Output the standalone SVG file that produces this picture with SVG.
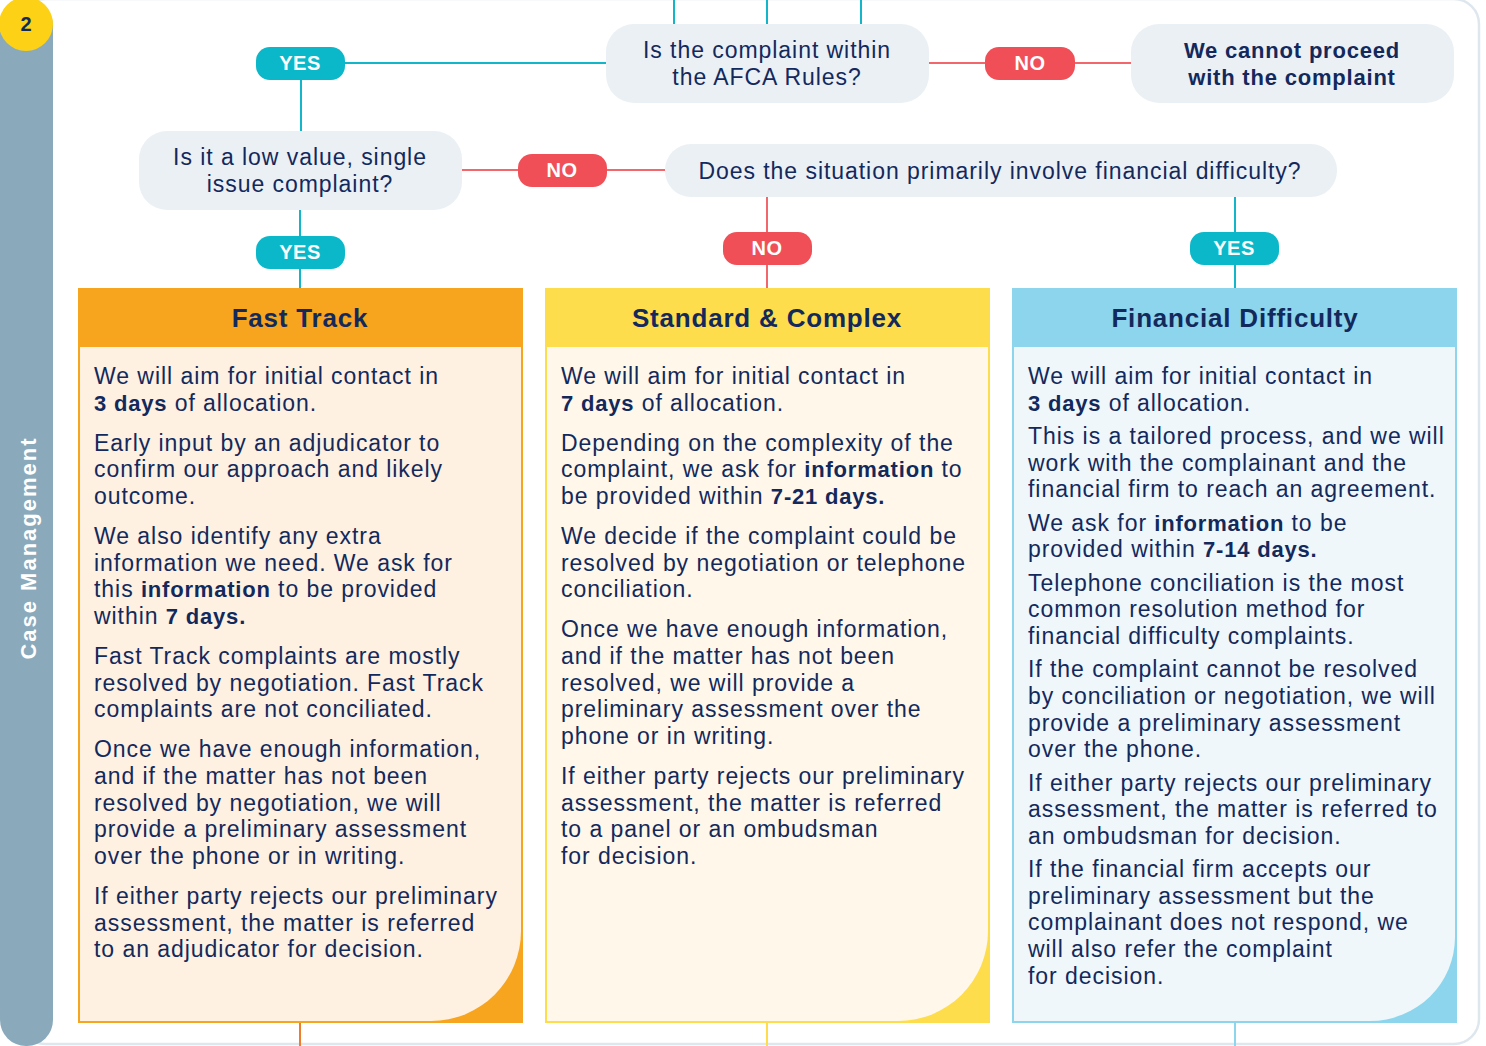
<svg xmlns="http://www.w3.org/2000/svg" width="1486" height="1046" viewBox="0 0 1486 1046">
<style>
.t{font-family:"Liberation Sans",Arial,sans-serif;fill:#13295c;font-size:23px;letter-spacing:0.95px}
.b{font-weight:700;font-size:22px;letter-spacing:0.8px}
.c{text-anchor:middle}
.node{fill:#ebf0f5}
.pt{font-family:"Liberation Sans",Arial,sans-serif;font-weight:700;font-size:20px;fill:#fff;text-anchor:middle;letter-spacing:0.5px}
.yes{fill:#0bb8c9}
.no{fill:#f04f57}
.lt{stroke:#12b6c8;stroke-width:2;fill:none}
.lr{stroke:#f2676c;stroke-width:2;fill:none}
.h{font-family:"Liberation Sans",Arial,sans-serif;font-weight:700;font-size:26px;fill:#13295c;text-anchor:middle;letter-spacing:0.8px}
</style>
<rect x="0" y="0" width="1486" height="1046" fill="#fff"/>
<rect x="20" y="-1" width="1459" height="1045" rx="25" fill="#fff" stroke="#dfe7ee" stroke-width="2.5"/>
<g id="sidebar">
<rect x="0" y="0" width="53" height="1046" rx="26" fill="#8aa9bb"/>
<text class="t b c" transform="translate(36,548) rotate(-90)" style="fill:#fff;letter-spacing:2px">Case Management</text>
</g>
<g id="badge">
<circle cx="26" cy="24" r="27" fill="#fcd116"/>
<text class="t b c" x="26" y="31" style="font-size:20px;letter-spacing:0">2</text>
</g>
<g id="connectors">
<line class="lt" x1="674" y1="0" x2="674" y2="24"/>
<line class="lt" x1="767" y1="0" x2="767" y2="24"/>
<line class="lt" x1="861" y1="0" x2="861" y2="24"/>
<line class="lt" x1="300" y1="63" x2="606" y2="63"/>
<line class="lt" x1="301" y1="63" x2="301" y2="131"/>
<line class="lt" x1="300" y1="210" x2="300" y2="288"/>
<line class="lt" x1="1235" y1="197" x2="1235" y2="288"/>
<line class="lr" x1="929" y1="63" x2="1131" y2="63"/>
<line class="lr" x1="462" y1="170" x2="665" y2="170"/>
<line class="lr" x1="767" y1="197" x2="767" y2="288"/>
<line x1="300" y1="1023" x2="300" y2="1046" stroke="#f07d2b" stroke-width="2"/>
<line x1="767" y1="1023" x2="767" y2="1046" stroke="#fedd4d" stroke-width="2"/>
<line x1="1235" y1="1023" x2="1235" y2="1046" stroke="#8cd5ec" stroke-width="2"/>
</g>
<g id="pill-yes-1"><rect class="yes" x="256" y="47" width="89" height="33" rx="14"/><text class="pt" x="300" y="70">YES</text></g>
<g id="pill-yes-2"><rect class="yes" x="256" y="236" width="89" height="33" rx="14"/><text class="pt" x="300" y="259">YES</text></g>
<g id="pill-no-1"><rect class="no" x="985" y="47" width="90" height="33" rx="14"/><text class="pt" x="1030" y="70">NO</text></g>
<g id="pill-no-2"><rect class="no" x="518" y="154" width="89" height="33" rx="14"/><text class="pt" x="562" y="177">NO</text></g>
<g id="pill-no-3"><rect class="no" x="723" y="232" width="89" height="33" rx="14"/><text class="pt" x="767" y="255">NO</text></g>
<g id="pill-yes-3"><rect class="yes" x="1190" y="232" width="89" height="33" rx="14"/><text class="pt" x="1234" y="255">YES</text></g>
<g id="node-afca">
<rect class="node" x="606" y="24" width="323" height="79" rx="28"/>
<text class="t c" x="767" y="58">Is the complaint within</text>
<text class="t c" x="767" y="85">the AFCA Rules?</text>
</g>
<g id="node-cannot">
<rect class="node" x="1131" y="24" width="323" height="79" rx="28"/>
<text class="t b c" x="1292" y="58">We cannot proceed</text>
<text class="t b c" x="1292" y="85">with the complaint</text>
</g>
<g id="node-lowvalue">
<rect class="node" x="139" y="131" width="323" height="79" rx="28"/>
<text class="t c" x="300" y="165">Is it a low value, single</text>
<text class="t c" x="300" y="192">issue complaint?</text>
</g>
<g id="node-hardship">
<rect class="node" x="665" y="144" width="672" height="53" rx="26"/>
<text class="t c" x="1000" y="179">Does the situation primarily involve financial difficulty?</text>
</g>
<g id="card-fasttrack">
<rect x="78" y="288" width="445" height="735" fill="#f7a51f"/>
<path d="M80 347 H521 V931 A90 90 0 0 1 431 1021 H80 Z" fill="#fef1e2"/>
<text class="h" x="300" y="327">Fast Track</text>
<text class="t" x="94" y="384">We will aim for initial contact in</text>
<text class="t" x="94" y="411"><tspan class="b">3 days</tspan> of allocation.</text>
<text class="t" x="94" y="451">Early input by an adjudicator to</text>
<text class="t" x="94" y="477">confirm our approach and likely</text>
<text class="t" x="94" y="504">outcome.</text>
<text class="t" x="94" y="544">We also identify any extra</text>
<text class="t" x="94" y="571">information we need. We ask for</text>
<text class="t" x="94" y="597">this <tspan class="b">information</tspan> to be provided</text>
<text class="t" x="94" y="624">within <tspan class="b">7 days.</tspan></text>
<text class="t" x="94" y="664">Fast Track complaints are mostly</text>
<text class="t" x="94" y="691">resolved by negotiation. Fast Track</text>
<text class="t" x="94" y="717">complaints are not conciliated.</text>
<text class="t" x="94" y="757">Once we have enough information,</text>
<text class="t" x="94" y="784">and if the matter has not been</text>
<text class="t" x="94" y="811">resolved by negotiation, we will</text>
<text class="t" x="94" y="837">provide a preliminary assessment</text>
<text class="t" x="94" y="864">over the phone or in writing.</text>
<text class="t" x="94" y="904">If either party rejects our preliminary</text>
<text class="t" x="94" y="931">assessment, the matter is referred</text>
<text class="t" x="94" y="957">to an adjudicator for decision.</text>
</g>
<g id="card-standard">
<rect x="545" y="288" width="445" height="735" fill="#fedd4d"/>
<path d="M547 347 H988 V931 A90 90 0 0 1 898 1021 H547 Z" fill="#fff8ea"/>
<text class="h" x="767" y="327">Standard &amp; Complex</text>
<text class="t" x="561" y="384">We will aim for initial contact in</text>
<text class="t" x="561" y="411"><tspan class="b">7 days</tspan> of allocation.</text>
<text class="t" x="561" y="451">Depending on the complexity of the</text>
<text class="t" x="561" y="477">complaint, we ask for <tspan class="b">information</tspan> to</text>
<text class="t" x="561" y="504">be provided within <tspan class="b">7-21 days.</tspan></text>
<text class="t" x="561" y="544">We decide if the complaint could be</text>
<text class="t" x="561" y="571">resolved by negotiation or telephone</text>
<text class="t" x="561" y="597">conciliation.</text>
<text class="t" x="561" y="637">Once we have enough information,</text>
<text class="t" x="561" y="664">and if the matter has not been</text>
<text class="t" x="561" y="691">resolved, we will provide a</text>
<text class="t" x="561" y="717">preliminary assessment over the</text>
<text class="t" x="561" y="744">phone or in writing.</text>
<text class="t" x="561" y="784">If either party rejects our preliminary</text>
<text class="t" x="561" y="811">assessment, the matter is referred</text>
<text class="t" x="561" y="837">to a panel or an ombudsman</text>
<text class="t" x="561" y="864">for decision.</text>
</g>
<g id="card-financial">
<rect x="1012" y="288" width="445" height="735" fill="#8cd5ec"/>
<path d="M1014 347 H1455 V937 A85 84 0 0 1 1370 1021 H1014 Z" fill="#eff7fb"/>
<text class="h" x="1235" y="327">Financial Difficulty</text>
<text class="t" x="1028" y="384">We will aim for initial contact in</text>
<text class="t" x="1028" y="411"><tspan class="b">3 days</tspan> of allocation.</text>
<text class="t" x="1028" y="444">This is a tailored process, and we will</text>
<text class="t" x="1028" y="471">work with the complainant and the</text>
<text class="t" x="1028" y="497">financial firm to reach an agreement.</text>
<text class="t" x="1028" y="531">We ask for <tspan class="b">information</tspan> to be</text>
<text class="t" x="1028" y="557">provided within <tspan class="b">7-14 days.</tspan></text>
<text class="t" x="1028" y="591">Telephone conciliation is the most</text>
<text class="t" x="1028" y="617">common resolution method for</text>
<text class="t" x="1028" y="644">financial difficulty complaints.</text>
<text class="t" x="1028" y="677">If the complaint cannot be resolved</text>
<text class="t" x="1028" y="704">by conciliation or negotiation, we will</text>
<text class="t" x="1028" y="731">provide a preliminary assessment</text>
<text class="t" x="1028" y="757">over the phone.</text>
<text class="t" x="1028" y="791">If either party rejects our preliminary</text>
<text class="t" x="1028" y="817">assessment, the matter is referred to</text>
<text class="t" x="1028" y="844">an ombudsman for decision.</text>
<text class="t" x="1028" y="877">If the financial firm accepts our</text>
<text class="t" x="1028" y="904">preliminary assessment but the</text>
<text class="t" x="1028" y="930">complainant does not respond, we</text>
<text class="t" x="1028" y="957">will also refer the complaint</text>
<text class="t" x="1028" y="984">for decision.</text>
</g>
</svg>
